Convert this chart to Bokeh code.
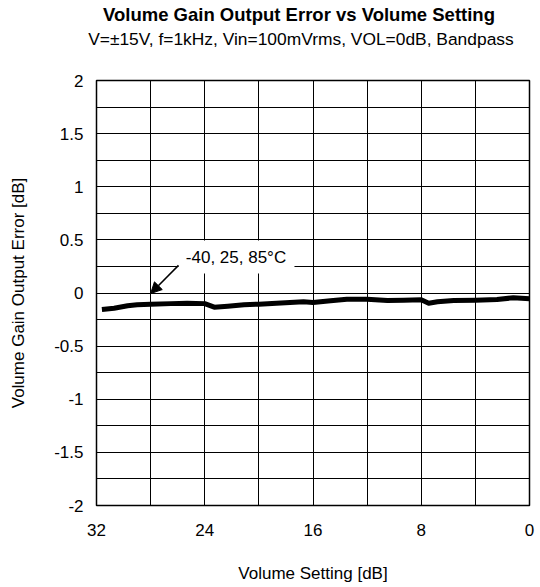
from bokeh.plotting import figure
from bokeh.models import (Range1d, FixedTicker, PrintfTickFormatter, Label, Title, LinearAxis,
                          BoxAnnotation, Arrow, NormalHead)
from bokeh.embed import file_html
from bokeh.resources import INLINE

# ---- data ----
volume_setting = [31.6, 30.7, 29.7, 29.0, 28.0, 26.5, 25.3, 24.0, 23.3, 22.3, 21.1, 20.0,
                  18.7, 16.7, 16.0, 14.7, 13.5, 12.0, 10.5, 9.3, 8.0, 7.45, 6.8, 5.6,
                  4.0, 2.4, 1.2, 0.0]
gain_error = [-0.155, -0.143, -0.120, -0.111, -0.105, -0.100, -0.096, -0.100, -0.133, -0.124,
              -0.111, -0.105, -0.096, -0.083, -0.089, -0.074, -0.058, -0.058, -0.071, -0.068,
              -0.064, -0.096, -0.083, -0.071, -0.068, -0.061, -0.045, -0.055]

x_label_ticks = [0, 8, 16, 24, 32]
x_grid_ticks = [0, 4, 8, 12, 16, 20, 24, 28, 32]
y_label_ticks = [-2, -1.5, -1, -0.5, 0, 0.5, 1, 1.5, 2]
y_grid_ticks = [-2 + 0.25 * i for i in range(17)]

title_text = "Volume Gain Output Error vs Volume Setting"
subtitle_text = "V=\u00b115V, f=1kHz, Vin=100mVrms, VOL=0dB, Bandpass"
annot_text = "-40, 25, 85\u00b0C"

FONT = "Liberation Sans"

p = figure(width=540, height=587, output_backend="svg", toolbar_location=None,
           x_range=Range1d(32, 0), y_range=Range1d(-2, 2),
           min_border_left=96, min_border_right=11, min_border_top=80, min_border_bottom=82,
           background_fill_color="white", border_fill_color="white")

p.outline_line_color = "black"
p.outline_line_width = 1.5

xax = p.xaxis[0]
yax = p.yaxis[0]
for ax in (xax, yax):
    ax.axis_line_color = None
    ax.major_tick_in = 0
    ax.major_tick_out = 0
    ax.minor_tick_line_color = None
    ax.major_label_text_font = FONT
    ax.major_label_text_font_size = "17px"
    ax.major_label_text_color = "black"
    ax.axis_label_text_font = FONT
    ax.axis_label_text_font_size = "17px"
    ax.axis_label_text_font_style = "normal"
    ax.axis_label_text_color = "black"

xax.ticker = FixedTicker(ticks=x_label_ticks)
yax.ticker = FixedTicker(ticks=y_label_ticks)
yax.formatter = PrintfTickFormatter(format="%g")
xax.axis_label = "Volume Setting [dB]"
yax.axis_label = "Volume Gain Output Error [dB]"
xax.major_label_standoff = 18
xax.axis_label_standoff = 25
yax.major_label_standoff = 13
yax.axis_label_standoff = 23

# grid
p.xgrid.ticker = FixedTicker(ticks=x_grid_ticks)
p.ygrid.ticker = FixedTicker(ticks=y_grid_ticks)
for g in (p.xgrid[0], p.ygrid[0]):
    g.grid_line_color = "black"
    g.grid_line_width = 1

# data line
p.line(volume_setting, gain_error, line_color="black", line_width=5, line_join="round")

# annotation
p.add_layout(BoxAnnotation(left=25.94, right=17.37, bottom=0.183, top=0.494,
                           fill_color="white", fill_alpha=1, line_color=None))
p.add_layout(Label(x=25.4, y=0.335, text=annot_text, text_font=FONT, text_font_size="17px",
                   text_color="black", text_baseline="middle", text_align="left"))
p.add_layout(Arrow(x_start=25.94, y_start=0.26, x_end=28.0, y_end=-0.005,
                   line_color="black", line_width=1.5,
                   end=NormalHead(size=11, fill_color="black", line_color="black")))

# subtitle: label of a bare axis above the frame; trailing no-break spaces
# move its centre a little to the left, as in the reference
sub_ax = LinearAxis(ticker=FixedTicker(ticks=[]),
                    axis_line_color=None, major_tick_in=0, major_tick_out=0,
                    minor_tick_line_color=None, major_label_text_font_size="0px",
                    axis_label=subtitle_text + "\u00a0" * 5, axis_label_standoff=32,
                    axis_label_text_font=FONT, axis_label_text_font_size="17.4px",
                    axis_label_text_font_style="normal", axis_label_text_color="black")
p.add_layout(sub_ax, "above")

# main title
p.add_layout(Title(text=title_text, align="left", offset=6.5, text_font=FONT,
                   text_font_size="18.5px", text_font_style="bold", text_color="black",
                   standoff=2), "above")

open("out.html", "w").write(file_html(p, INLINE))
